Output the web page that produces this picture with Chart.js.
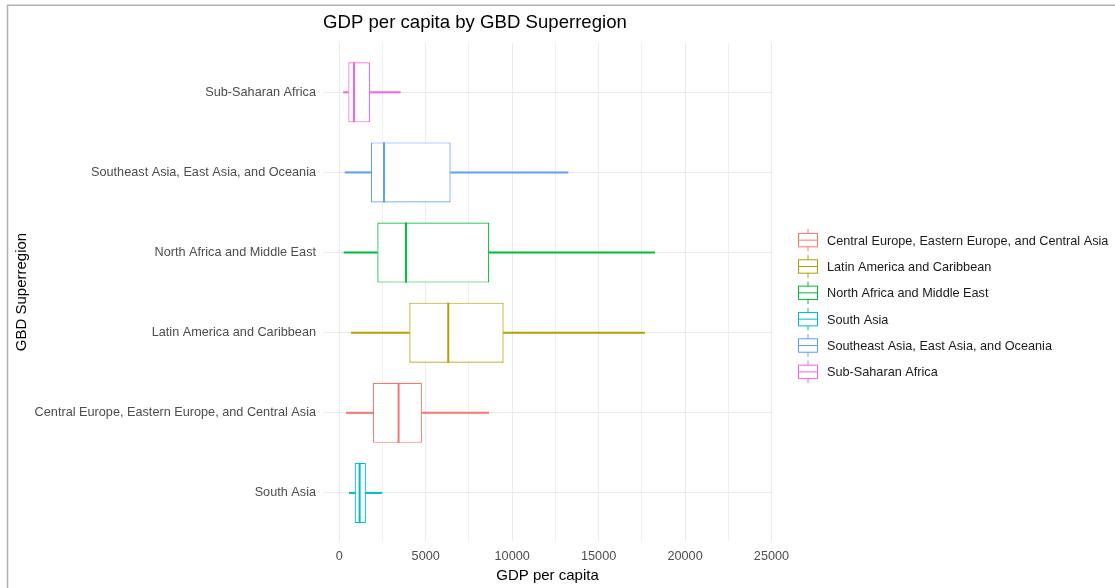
<!DOCTYPE html>
<html>
<head>
<meta charset="utf-8">
<title>GDP per capita by GBD Superregion</title>
<script src="https://cdn.jsdelivr.net/npm/chart.js@4/dist/chart.umd.min.js"></script>
<style>
  html, body { margin: 0; padding: 0; background: #ffffff; }
  #wrap { width: 1115px; height: 588px; position: relative; }
</style>
</head>
<body>
<div id="wrap"><canvas id="chart" width="1115" height="588"></canvas></div>
<script>
// Superregions in legend (alphabetical) order, with their hue colours
const regions = [
  'Central Europe, Eastern Europe, and Central Asia',
  'Latin America and Caribbean',
  'North Africa and Middle East',
  'South Asia',
  'Southeast Asia, East Asia, and Oceania',
  'Sub-Saharan Africa'
];
const regionColors = ['#F8766D', '#B79F00', '#00BA38', '#00BFC4', '#619CFF', '#F564E3'];

// Order of the superregions along the vertical axis, top to bottom
const axisOrder = [
  'Sub-Saharan Africa',
  'Southeast Asia, East Asia, and Oceania',
  'North Africa and Middle East',
  'Latin America and Caribbean',
  'Central Europe, Eastern Europe, and Central Asia',
  'South Asia'
];

// Five-number summaries of GDP per capita (same order as regions)
const whiskerLow  = [405,  695,   270,   580,  330,   250];
const lowerQuart  = [1945, 4050,  2200,  890,  1830,  520];
const medians     = [3430, 6305,  3855,  1175, 2585,  850];
const upperQuart  = [4780, 9505,  8675,  1540, 6440,  1775];
const whiskerHigh = [8640, 17660, 18240, 2465, 13230, 3530];

// GDP axis: labelled ticks and the minor grid values between them
const xTickValues = [0, 5000, 10000, 15000, 20000, 25000];
const xTickLabels = ['0', '5000', '10000', '15000', '20000', '25000'];
const xMinorValues = [2500, 7500, 12500, 17500, 22500];

const FONT = "'Liberation Sans', Arial, Helvetica, sans-serif";
Chart.defaults.font.family = FONT;

const pos = regions.map(r => axisOrder.indexOf(r));

const boxData = regions.map((r, i) => ({ y: pos[i], x: [lowerQuart[i], upperQuart[i]] }));
const lowWhiskerData = regions.map((r, i) => ({ y: pos[i], x: [whiskerLow[i], lowerQuart[i]] }));
const highWhiskerData = regions.map((r, i) => ({ y: pos[i], x: [upperQuart[i], whiskerHigh[i]] }));

// white page and the thin grey frame along the top and left
const pagePlugin = {
  id: 'page',
  beforeDraw(chart) {
    const ctx = chart.ctx;
    ctx.save();
    ctx.fillStyle = '#ffffff';
    ctx.fillRect(0, 0, chart.width, chart.height);
    ctx.strokeStyle = '#b4b0b2';
    ctx.lineWidth = 1.5;
    ctx.beginPath();
    ctx.moveTo(7.5, chart.height);
    ctx.lineTo(7.5, 5.25);
    ctx.lineTo(chart.width, 5.25);
    ctx.stroke();
    ctx.restore();
  }
};

// median strokes across each box
const medianPlugin = {
  id: 'medians',
  afterDatasetsDraw(chart) {
    const meta = chart.getDatasetMeta(0);
    const xs = chart.scales.x;
    const ctx = chart.ctx;
    ctx.save();
    meta.data.forEach((el, i) => {
      const { y, height } = el.getProps(['y', 'height'], true);
      const x = xs.getPixelForValue(medians[i]);
      ctx.strokeStyle = regionColors[i];
      ctx.lineWidth = 2;
      ctx.beginPath();
      ctx.moveTo(x, y - height / 2);
      ctx.lineTo(x, y + height / 2);
      ctx.stroke();
    });
    ctx.restore();
  }
};

// legend with boxplot keys to the right of the panel
const boxLegendPlugin = {
  id: 'boxLegend',
  afterDraw(chart) {
    const ca = chart.chartArea;
    const ctx = chart.ctx;
    const step = 26.35;
    const first = (ca.top + ca.bottom) / 2 + 14 - step * (regions.length - 1) / 2;
    const kx = ca.right + 36;
    ctx.save();
    regions.forEach((name, i) => {
      const cy = first + i * step;
      ctx.strokeStyle = regionColors[i];
      ctx.lineWidth = 1;
      ctx.strokeRect(kx - 9.5, cy - 6.7, 19, 13.4);
      ctx.beginPath();
      ctx.moveTo(kx - 9.5, cy);
      ctx.lineTo(kx + 9.5, cy);
      ctx.moveTo(kx, cy - 11.3);
      ctx.lineTo(kx, cy - 6.7);
      ctx.moveTo(kx, cy + 6.7);
      ctx.lineTo(kx, cy + 11.3);
      ctx.stroke();
      ctx.fillStyle = '#1a1a1a';
      ctx.font = '12.7px ' + FONT;
      ctx.textBaseline = 'middle';
      ctx.textAlign = 'left';
      ctx.fillText(name, ca.right + 55, cy + 1);
    });
    ctx.restore();
  }
};

new Chart(document.getElementById('chart'), {
  type: 'bar',
  data: {
    datasets: [
      {
        label: 'box',
        data: boxData,
        backgroundColor: '#ffffff',
        borderColor: regionColors,
        borderWidth: 1.2,
        borderSkipped: false,
        grouped: false,
        categoryPercentage: 1,
        barPercentage: 0.75
      },
      {
        label: 'lower whisker',
        data: lowWhiskerData,
        backgroundColor: regionColors,
        borderWidth: 0,
        grouped: false,
        barThickness: 1.4
      },
      {
        label: 'upper whisker',
        data: highWhiskerData,
        backgroundColor: regionColors,
        borderWidth: 0,
        grouped: false,
        barThickness: 1.4
      }
    ]
  },
  options: {
    indexAxis: 'y',
    responsive: false,
    animation: false,
    devicePixelRatio: 1,
    layout: { padding: { left: 8, right: 343, top: 6, bottom: 0 } },
    plugins: {
      legend: { display: false },
      tooltip: { enabled: false },
      title: {
        display: true,
        text: 'GDP per capita by GBD Superregion',
        align: 'start',
        fullSize: false,
        color: '#000000',
        font: { size: 18.6, weight: 'normal', family: FONT },
        padding: { top: 6, bottom: 8.7 }
      }
    },
    scales: {
      x: {
        type: 'linear',
        position: 'bottom',
        min: -942,
        max: 25030,
        afterBuildTicks(scale) {
          scale.ticks = xTickValues.concat(xMinorValues).sort((a, b) => a - b).map(v => ({ value: v }));
        },
        afterFit(scale) { scale.height = 47; },
        grid: {
          color: ctx => (ctx.tick && xMinorValues.includes(ctx.tick.value)) ? '#efefef' : '#ebebeb',
          lineWidth: 1,
          drawTicks: false
        },
        border: { display: false },
        ticks: {
          autoSkip: false,
          maxRotation: 0,
          padding: 7.5,
          color: '#4d4d4d',
          font: { size: 12.7 },
          callback(value) {
            const k = xTickValues.indexOf(value);
            return k >= 0 ? xTickLabels[k] : '';
          }
        },
        title: {
          display: true,
          text: 'GDP per capita',
          color: '#000000',
          font: { size: 15 },
          padding: { top: 0, bottom: 3 }
        }
      },
      y: {
        type: 'linear',
        min: -0.615,
        max: 5.6,
        reverse: true,
        offset: false,
        afterBuildTicks(scale) {
          scale.ticks = axisOrder.map((n, i) => ({ value: i }));
        },
        afterFit(scale) { scale.width = 315; },
        grid: { color: '#ebebeb', lineWidth: 1, drawTicks: false, offset: false },
        border: { display: false },
        ticks: {
          autoSkip: false,
          padding: 7,
          color: '#4d4d4d',
          font: { size: 12.7 },
          callback(value) { return axisOrder[value]; }
        },
        title: {
          display: true,
          text: 'GBD Superregion',
          color: '#000000',
          font: { size: 15 },
          padding: { top: 5, bottom: 0 }
        }
      }
    }
  },
  plugins: [pagePlugin, medianPlugin, boxLegendPlugin]
});
</script>
</body>
</html>
